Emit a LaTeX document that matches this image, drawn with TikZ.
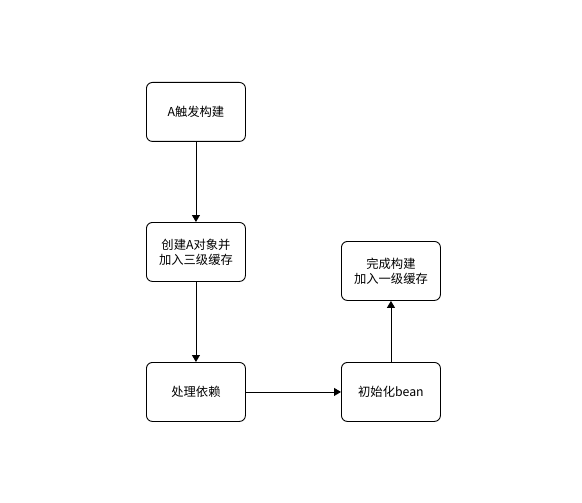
\documentclass[tikz,border=0pt]{standalone}
\usepackage{fontspec}
\setmainfont{Noto Sans CJK SC}
\usetikzlibrary{arrows.meta}
\begin{document}
\begin{tikzpicture}[x=1pt,y=-1pt,
  box/.style={draw=black,line width=0.9pt,rounded corners=6pt,minimum width=99pt,minimum height=59pt,inner sep=0pt,align=center,font=\fontsize{12.3}{15}\selectfont,anchor=north west},
  conn/.style={draw=black,line width=0.9pt,-{Triangle[length=7pt,width=8pt]}}]
\useasboundingbox[fill=white] (0,0) rectangle (582,503);
\node[box] (a) at (146,82) {A触发构建};
\node[box] (b) at (146,222) {创建A对象并\\加入三级缓存};
\node[box] (c) at (146,362) {处理依赖};
\node[box] (d) at (341,362) {初始化bean};
\node[box] (e) at (341,241) {完成构建\\加入一级缓存};
\draw[conn] (a) -- (b);
\draw[conn] (b) -- (c);
\draw[conn] (c) -- (d);
\draw[conn] (d) -- (e);
\end{tikzpicture}
\end{document}
